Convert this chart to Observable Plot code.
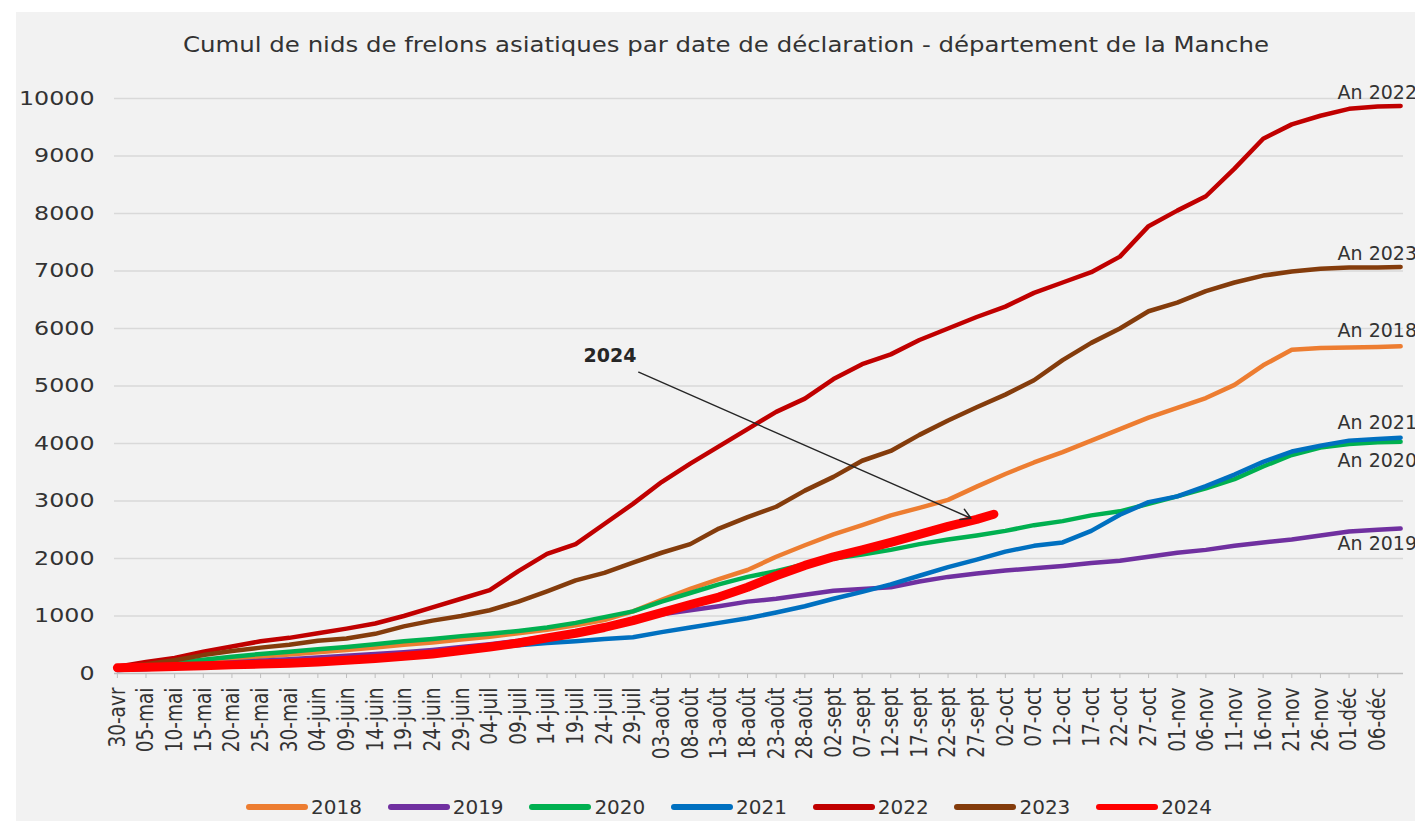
<!DOCTYPE html>
<html><head><meta charset="utf-8">
<script src="https://cdn.jsdelivr.net/npm/d3@7"></script>
<script src="https://cdn.jsdelivr.net/npm/@observablehq/plot@0.6"></script>
<style>
html,body{margin:0;padding:0;background:#fff;overflow:hidden;}
#wrap{position:relative;width:1415px;height:823px;font-family:"DejaVu Sans",sans-serif;color:#333;}
#panel{position:absolute;left:16px;top:12px;right:0;bottom:2px;background:#f2f2f2;}
#title{position:absolute;left:126px;width:1200px;top:32px;text-align:center;font-size:22px;line-height:26px;white-space:nowrap;transform:scaleX(1.11);transform-origin:600px 0;}
#chart{position:absolute;left:0;top:0;}
#legend{position:absolute;left:245px;top:795px;display:flex;}
.item{width:141.7px;display:flex;align-items:center;height:24px;font-size:20px;}
.item svg{display:block;margin-right:2px;}
</style></head>
<body><div id="wrap"><div id="panel"></div><div id="chart"></div>
<div id="title">Cumul de nids de frelons asiatiques par date de déclaration - département de la Manche</div>
<div id="legend"></div></div>
<script>
const years = ["2018","2019","2020","2021","2022","2023","2024"];
const colors = ["#ED7D31","#7030A0","#00B050","#0070C0","#C00000","#843C0C","#FF0000"];
const tickLabels = ["30-avr","05-mai","10-mai","15-mai","20-mai","25-mai","30-mai","04-juin","09-juin","14-juin","19-juin","24-juin","29-juin","04-juil","09-juil","14-juil","19-juil","24-juil","29-juil","03-août","08-août","13-août","18-août","23-août","28-août","02-sept","07-sept","12-sept","17-sept","22-sept","27-sept","02-oct","07-oct","12-oct","17-oct","22-oct","27-oct","01-nov","06-nov","11-nov","16-nov","21-nov","26-nov","01-déc","06-déc"];
const yTicks = [0,1000,2000,3000,4000,5000,6000,7000,8000,9000,10000];
const firstDate = "2024-04-30";      // first tick / first sample
const lastDate = "2024-12-10";       // last sample of 2018-2023
const lastDate2024 = "2024-09-30";   // last sample of 2024

// values at each tick (every 5 days) + last sample
const s2018 = [100,130,170,210,250,290,330,370,410,450,500,540,590,640,700,760,840,930,1080,1280,1470,1640,1800,2030,2230,2420,2580,2750,2880,3020,3250,3470,3670,3850,4050,4250,4450,4620,4790,5020,5360,5630,5660,5670,5680,5690];
const s2019 = [80,100,130,160,190,220,250,280,310,340,370,410,460,510,570,640,730,820,950,1030,1100,1170,1250,1300,1370,1440,1470,1500,1600,1680,1740,1790,1830,1870,1920,1960,2030,2100,2150,2220,2280,2330,2400,2470,2500,2520];
const s2020 = [100,140,190,240,290,340,380,420,460,510,560,600,650,690,740,800,880,980,1080,1250,1400,1550,1680,1780,1900,2000,2070,2150,2250,2330,2400,2480,2580,2650,2750,2820,2950,3080,3220,3380,3600,3800,3930,3990,4020,4030];
const s2021 = [60,80,100,120,150,180,200,230,260,290,320,350,400,450,490,530,560,600,630,720,800,880,960,1060,1170,1300,1420,1550,1700,1850,1980,2120,2220,2280,2480,2760,2980,3080,3260,3460,3680,3860,3960,4050,4080,4100];
const s2022 = [120,200,270,380,470,560,620,700,780,870,1000,1150,1300,1450,1780,2080,2250,2600,2950,3330,3650,3950,4250,4550,4780,5120,5380,5550,5800,6000,6200,6380,6620,6800,6980,7250,7780,8050,8300,8780,9300,9550,9700,9820,9860,9870];
const s2023 = [110,160,230,320,390,450,500,570,610,690,820,920,1000,1100,1250,1430,1620,1750,1930,2100,2250,2520,2720,2900,3180,3420,3700,3870,4150,4400,4630,4850,5100,5450,5750,6000,6300,6450,6650,6800,6920,6990,7040,7060,7060,7070];
const s2024 = [100,110,120,135,150,165,180,200,230,260,300,340,400,460,530,620,700,800,920,1060,1200,1330,1500,1700,1880,2030,2150,2280,2420,2560,2680,2770];

const endLabelText = ["An 2022","An 2023","An 2018","An 2021","An 2020","An 2019"];
const endLabelValue = [10100,7300,5960,4350,3700,2260];
const endLabelDate = "2024-11-29";
const annotText = "2024";
const annotDate = "2024-07-25", annotValue = 5530;
const arrowFrom = {date: "2024-07-30", value: 5240};
const arrowTo = {date: "2024-09-26", value: 2700};

// ---- build tables ----
const day = 864e5;
const t0 = Date.parse(firstDate);
const tickDates = tickLabels.map((_, i) => new Date(t0 + i * 5 * day));
const labelByTime = new Map(tickDates.map((d, i) => [+d, tickLabels[i]]));
const dates = [...tickDates, new Date(lastDate)];
const dates2024 = [...tickDates.slice(0, s2024.length - 1), new Date(lastDate2024)];
const series = {"2018": s2018, "2019": s2019, "2020": s2020, "2021": s2021, "2022": s2022, "2023": s2023};
const rows = [];
for (const y of years.slice(0, 6)) series[y].forEach((v, i) => rows.push({year: y, date: dates[i], value: v}));
const rows24 = s2024.map((v, i) => ({year: "2024", date: dates2024[i], value: v}));
const endLabels = endLabelText.map((t, i) => ({text: t, value: endLabelValue[i], date: new Date(endLabelDate)}));

const H = 780;
const chart = Plot.plot({
  width: 1415, height: H,
  marginLeft: 114, marginRight: 12, marginTop: 98, marginBottom: H - 673,
  x: {type: "utc", domain: [new Date(Date.parse("2024-04-29T12:00Z")), new Date(Date.parse("2024-12-10T12:00Z"))], label: null},
  y: {domain: [0, 10000], label: null},
  color: {domain: years, range: colors},
  style: {background: "transparent", fontFamily: "DejaVu Sans", color: "#333", overflow: "visible"},
  marks: [
    Plot.gridY(yTicks.filter(d => d > 0), {stroke: "#d9d9d9", strokeOpacity: 1, strokeWidth: 1.6}),
    Plot.ruleY([0], {stroke: "#bfbfbf", strokeWidth: 1.6}),
    Plot.axisY({ticks: yTicks, tickSize: 0, tickPadding: 20, fontSize: 19, tickFormat: d => String(d), fill: "#333", label: null}),
    Plot.axisX({ticks: tickDates, tickFormat: d => labelByTime.get(+d), tickRotate: -90, fontSize: 18.5, tickSize: 5, tickPadding: 9, stroke: "#bfbfbf", fill: "#333", label: null}),
    Plot.line(rows, {x: "date", y: "value", z: "year", stroke: "year", strokeWidth: 4.5, strokeLinecap: "round", strokeLinejoin: "round"}),
    Plot.line(rows24, {x: "date", y: "value", z: "year", stroke: "year", strokeWidth: 9, strokeLinecap: "round", strokeLinejoin: "round"}),
    Plot.text(endLabels, {x: "date", y: "value", text: "text", textAnchor: "start", fontSize: 19, fill: "#333"}),
    Plot.arrow([0], {x1: () => new Date(arrowFrom.date), y1: () => arrowFrom.value, x2: () => new Date(arrowTo.date), y2: () => arrowTo.value, stroke: "#262626", strokeWidth: 1.4, headLength: 12}),
    Plot.text([annotText], {x: () => new Date(annotDate), y: () => annotValue, text: d => d, fontWeight: "bold", fontSize: 19, fill: "#262626"})
  ]
});
document.getElementById("chart").appendChild(chart);

function stretch(sel, sx, sy) {
  chart.querySelectorAll(sel).forEach(t => {
    const tr = t.getAttribute("transform");
    if (tr) t.setAttribute("transform", tr + ` scale(${sx},${sy})`);
    else {
      const x = +t.getAttribute("x") || 0, y = +t.getAttribute("y") || 0;
      t.setAttribute("transform", `translate(${x},${y}) scale(${sx},${sy}) translate(${-x},${-y})`);
    }
  });
}
stretch('[aria-label="y-axis tick label"] text', 1.25, 1);
stretch('[aria-label="x-axis tick label"] text', 1, 1.25);

// legend
const legend = document.getElementById("legend");
years.forEach((y, i) => {
  const item = document.createElement("div");
  item.className = "item";
  item.innerHTML = `<svg width="64" height="10"><line x1="4" x2="60" y1="5" y2="5" stroke="${colors[i]}" stroke-width="6" stroke-linecap="round"/></svg><span>${y}</span>`;
  legend.appendChild(item);
});
</script></body></html>
